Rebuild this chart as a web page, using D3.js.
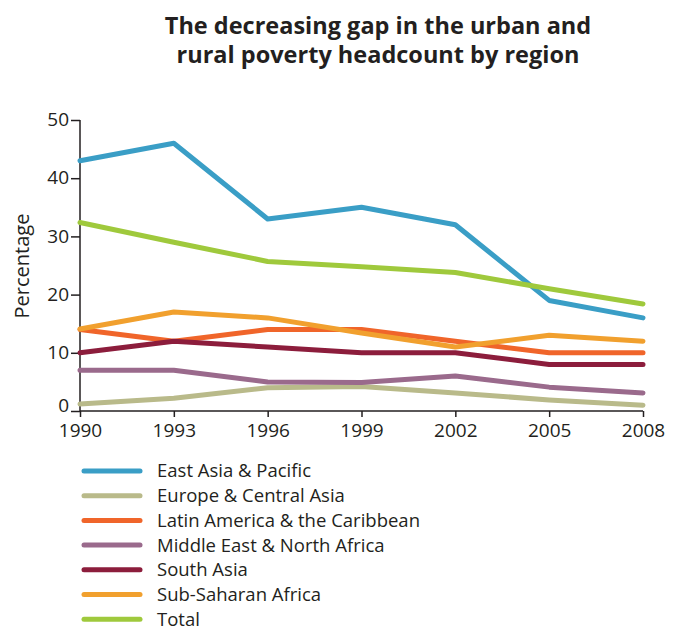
<!DOCTYPE html>
<html>
<head>
<meta charset="utf-8">
<script src="https://cdn.jsdelivr.net/npm/d3@7"></script>
<style>
	body { margin: 0; background: #fff; }
	svg text { font-family: "Open Sans", "DejaVu Sans", sans-serif; fill: #231f20; }
</style>
</head>
<body>
<div id="chart"></div>
<script>

const years = [ 1990, 1993, 1996, 1999, 2002, 2005, 2008 ];
const yTicks = [ 0, 10, 20, 30, 40, 50 ];

const regions = [
	"East Asia & Pacific",
	"Europe & Central Asia",
	"Latin America & the Caribbean",
	"Middle East & North Africa",
	"South Asia",
	"Sub-Saharan Africa",
	"Total"
];

const eastAsia   = [ 43, 46, 33, 35, 32, 19, 16 ];
const europe     = [ 1.2, 2.2, 4, 4.2, 3.1, 1.9, 1 ];
const latin      = [ 14, 12, 14, 14, 12, 10, 10 ];
const middleEast = [ 7, 7, 5, 4.9, 6, 4.1, 3.1 ];
const southAsia  = [ 10, 12, 11, 10, 10, 8, 8 ];
const subSahara  = [ 14.1, 17, 16, 13.4, 11, 13, 12 ];
const total      = [ 32.4, 29, 25.7, 24.8, 23.8, 21, 18.4 ];

const colors = [ "#3a9ec6", "#b9ba8a", "#f0652a", "#9a6a8c", "#8c1d3c", "#f1a02e", "#9fc93c" ];

const seriesValues = [ eastAsia, europe, latin, middleEast, southAsia, subSahara, total ];

///////////////////////////////////////////////////////////////////////

const width = 675, height = 631;

const svg = d3.select( "#chart" )
	.append( "svg" )
		.attr( "width", width )
		.attr( "height", height );

// title
svg.append( "text" )
	.attr( "x", 378 ).attr( "y", 34 )
	.attr( "text-anchor", "middle" )
	.style( "font-size", "23.5px" ).style( "font-weight", 700 )
	.text( "The decreasing gap in the urban and" );
svg.append( "text" )
	.attr( "x", 378 ).attr( "y", 63 )
	.attr( "text-anchor", "middle" )
	.style( "font-size", "23.5px" ).style( "font-weight", 700 )
	.text( "rural poverty headcount by region" );

const x = d3.scaleLinear()
	.domain( [ 1990, 2008 ] )
	.range( [ 80, 643 ] );

const y = d3.scaleLinear()
	.domain( [ 0, 50 ] )
	.range( [ 411, 120 ] );

// axes
const yAxis = svg.append( "g" )
	.attr( "transform", "translate(80,0)" )
	.call( d3.axisLeft( y ).tickValues( yTicks ).tickSize( 9 ).tickPadding( 2 ) );

const xAxis = svg.append( "g" )
	.attr( "transform", "translate(0,411)" )
	.call( d3.axisBottom( x ).tickValues( years ).tickFormat( d3.format( "d" ) ).tickSize( 6 ).tickPadding( 5 ) );

[ yAxis, xAxis ].forEach( g => {
	g.select( ".domain" ).attr( "stroke", "#231f20" ).attr( "stroke-width", 1.5 );
	g.selectAll( ".tick line" ).attr( "stroke", "#231f20" ).attr( "stroke-width", 1.5 );
	g.selectAll( ".tick text" )
		.style( "font-size", "19px" )
		.style( "font-family", "\"Open Sans\", sans-serif" )
		.attr( "fill", "#231f20" );
} );
// plain axis lines, no outer ticks
yAxis.select( ".domain" ).attr( "d", "M0," + y( 50 ) + "V" + y( 0 ) );
xAxis.select( ".domain" ).attr( "d", "M" + x( 1990 ) + ",0H" + x( 2008 ) );
xAxis.selectAll( ".tick text" ).attr( "dy", "0.8em" );
yAxis.selectAll( ".tick text" ).attr( "dy", d => d === 0 ? "0.05em" : "0.3em" );

svg.append( "text" )
	.attr( "transform", "translate(29,266) rotate(-90)" )
	.attr( "text-anchor", "middle" )
	.style( "font-size", "20px" )
	.text( "Percentage" );

// lines
const line = d3.line()
	.x( ( d, i ) => x( years[ i ] ) )
	.y( d => y( d ) );

svg.append( "g" )
	.selectAll( "path" )
	.data( seriesValues )
	.join( "path" )
		.attr( "d", d => line( d ) )
		.attr( "fill", "none" )
		.attr( "stroke", ( d, i ) => colors[ i ] )
		.attr( "stroke-width", 5 )
		.attr( "stroke-linejoin", "round" )
		.attr( "stroke-linecap", "round" );

// legend
const legend = svg.append( "g" )
	.selectAll( "g" )
	.data( regions )
	.join( "g" )
		.attr( "transform", ( d, i ) => "translate(0," + ( 471 + i * 24.7 ) + ")" );

legend.append( "line" )
	.attr( "x1", 84 ).attr( "x2", 140 )
	.attr( "y1", 0 ).attr( "y2", 0 )
	.attr( "stroke", ( d, i ) => colors[ i ] )
	.attr( "stroke-width", 5 )
	.attr( "stroke-linecap", "round" );

legend.append( "text" )
	.attr( "x", 157 ).attr( "y", 0 )
	.attr( "dy", "0.35em" )
	.style( "font-size", "18.5px" )
	.text( d => d );

</script>
</body>
</html>
